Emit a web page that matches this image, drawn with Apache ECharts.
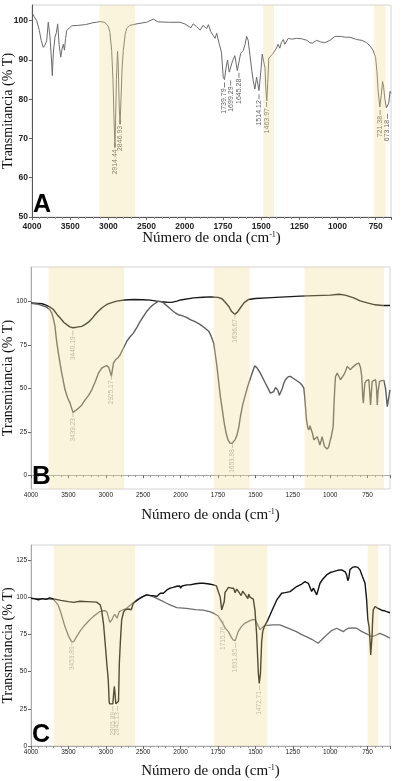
<!DOCTYPE html>
<html>
<head>
<meta charset="utf-8">
<script src="https://cdn.jsdelivr.net/npm/echarts@6/dist/echarts.min.js"></script>
<style>
  html, body { margin: 0; padding: 0; background: #fff; }
  #chart { width: 406px; height: 781px; }
</style>
</head>
<body>
<div id="chart"></div>
<script>
// ---- panel A ----
var waveA = [4000,3970,3939,3920,3904,3880,3852,3830,3808,3787,3765,3745,3734,3720,3699,3680,3664,3645,3624,3605,3590,3575,3560,3546,3510,3480,3400,3300,3200,3153,3110,3050,3001,2980,2957,2940,2925,2914,2905,2895,2880,2870,2858,2847,2835,2820,2805,2780,2761,2720,2674,2600,2500,2412,2350,2200,2063,2000,1987,1960,1945,1922,1900,1880,1857,1845,1830,1813,1802,1791,1774,1760,1748,1740,1730,1720,1709,1699,1687,1672,1656,1645,1634,1617,1605,1595,1585,1573,1560,1552,1541,1530,1514,1500,1493,1483,1475,1468,1463,1457,1450,1437,1425,1410,1400,1389,1378,1367,1355,1345,1323,1300,1268,1235,1200,1181,1165,1137,1110,1083,1050,1017,980,950,919,875,840,810,785,767,751,742,734,723,714,705,698,690,680,673,665,656,650];
var transA = [102.1,101,100,99.5,97.5,95,93.2,93.8,94.9,99.6,96,90,86,92,95.8,97,99.2,94,90.7,93,94,92.5,95.5,97.5,98.2,98.7,98.8,99,99.5,99.6,99.8,99.6,98.6,97,92.4,85,74,67.8,75,85,92.2,88,78,73.7,80,88,92.4,96.5,98,98.8,99,99.3,99.6,100.4,99.7,99.6,99.6,99.2,99,98.2,99.2,98.5,97.6,98.8,98,99,97.2,96.2,95.5,96.8,94,92,85.6,85,88,90,86.9,86.5,89.8,91.1,87.3,87,91.7,92.4,94,96,95,91.1,87,84.7,82.6,85.6,82.2,88,91.5,92,88,82,79.6,84,90.5,90,91.5,92.4,93,94,93,94.5,95.2,94,95.5,95.3,95.5,95.4,95,94.4,94.3,95,94.6,94.4,95,96,96,95.8,95.8,95.2,95,94.4,93.5,92.4,90.7,87,82,78,81,84.5,83,80,77.8,77.5,79,82,81.5];
var peaksA = [2914.44, 2846.93, 1739.79, 1699.29, 1645.28, 1514.12, 1463.97, 721.38, 673.18];
var peakLevelA = [67.5, 73.5, 83, 83.5, 85.5, 80, 78, 76, 75];
var bandsA = [[3120, 2650], [1487, 1415], [760, 686]];

// ---- panel B ----
var waveB1 = [4000,3900,3850,3800,3750,3701,3650,3612,3560,3522,3480,3440,3390,3321,3280,3232,3180,3121,3050,2987,2920,2853,2750,2629,2500,2406,2300,2183,2120,2049,2000,1913,1850,1801,1750,1723,1700,1679,1660,1638,1620,1600,1575,1545,1500,1422,1300,1199,1100,1000,940,900,842,800,752,700,650,600];
var transB1 = [99.3,99,98.8,98,97,95.5,92.5,90.7,88,86.8,85.5,85,85.3,85.8,86.8,88.2,90.5,93.6,96.5,98.4,99.5,100.3,101,101.3,101.1,100.9,100.2,99.7,99.6,100.3,101,102.2,102.6,102.8,102.5,101.7,99.5,97.4,94.5,92.7,94,96.5,99.5,101.3,101.8,102.2,102.8,103.2,103.5,103.8,104.3,103.8,102.2,100.5,99.3,98.2,97.8,97.8];
var waveB2 = [4000,3900,3800,3750,3723,3700,3679,3660,3634,3610,3589,3545,3510,3478,3439,3410,3366,3320,3277,3230,3187,3140,3098,3054,3020,2987,2960,2951,2935,2925,2915,2897,2870,2853,2830,2808,2790,2763,2719,2680,2629,2580,2540,2490,2451,2400,2362,2295,2260,2228,2180,2138,2100,2071,2030,1991,1960,1935,1900,1868,1840,1812,1795,1779,1770,1757,1745,1734,1720,1708,1695,1683,1670,1656,1645,1635,1623,1610,1600,1585,1567,1550,1533,1515,1505,1490,1467,1450,1433,1415,1400,1390,1377,1365,1359,1350,1340,1333,1320,1310,1299,1280,1266,1250,1232,1215,1199,1185,1176,1170,1163,1158,1150,1143,1135,1127,1118,1109,1098,1087,1078,1069,1060,1054,1045,1038,1031,1020,1009,1000,994,987,980,975,968,964,953,942,931,920,908,897,886,875,864,853,842,825,808,797,789,782,778,773,768,758,748,741,736,730,725,719,708,696,690,685,680,670,655,641,630,618,610,600];
var transB2 = [99,98.5,97,95.5,93.6,90,85.8,78,70.4,64,58.8,49.2,44.5,41.5,36.2,37,38.6,40.5,43.4,46,49.2,54,58.8,61.7,62.5,63.1,62,61.7,58.5,57,60,64.6,66.5,67.5,68,69.4,71,73.3,77.2,79.5,82,85.5,88.7,92,94.5,97,98.4,100.3,100,99.3,97.5,95.9,94.5,93.6,92.5,92,91,89.7,88.3,86.8,85,83,80,76.2,71,62.7,53.5,45.3,37,29.9,24,20.3,18.5,18.3,19,20.5,23.1,28,33.8,40.5,46.3,51.5,55.9,60.5,63,62,58.8,56,53,50,47.3,46.5,48.2,50.5,51.1,49,46,45.5,50,53,55,56.8,56.9,56,55,54,53,51.5,50.2,45,37,31.8,27.5,26,28.5,29,24,20.3,21,22.2,20,17.4,20,22.2,19,16.5,15.4,15,16.4,20,21.5,22.2,28,40,52,56.9,58.8,57,55,56,57.9,60,62.7,62,60.8,62,63.1,64,64.6,62,57,45,41.5,48,53,54.5,55,55,48,40.5,47,54,55,55,50,40.5,48,54,54.5,54.6,50,39.5,44,49.2];
var peaksB = [3440.19, 1636.67, 3439.23, 2925.17, 1653.88];
var peakLevelB = [80.5, 90.5, 33.5, 55, 15.5];
var bandsB = [[3768, 2754], [1779, 1538], [1172, 640]];

// ---- panel C ----
var waveC1 = [4000,3950,3900,3850,3800,3750,3700,3680,3600,3500,3430,3346,3252,3123,3074,3056,3029,3012,2985,2967,2955,2950,2930,2906,2895,2886,2876,2866,2841,2830,2819,2805,2788,2762,2743,2700,2677,2660,2632,2606,2543,2500,2455,2400,2362,2319,2272,2230,2183,2140,2100,2050,2010,2000,1990,1958,1937,1900,1870,1849,1820,1800,1781,1760,1748,1735,1725,1716,1708,1703,1691,1680,1660,1646,1635,1625,1615,1603,1595,1585,1570,1559,1550,1545,1536,1525,1514,1503,1492,1480,1474,1466,1458,1451,1440,1420,1402,1380,1357,1324,1300,1268,1224,1190,1168,1146,1124,1112,1090,1068,1050,1024,1000,979,950,923,900,890,882,879,875,868,850,834,815,801,785,767,756,748,740,733,729,724,720,716,712,700,690,680,668,650,636,622,610,600];
var transC1 = [99.2,98.8,98.2,99,98.5,99.5,98.8,98.1,97.8,97,96.5,97.2,97,96.6,94.8,91.4,81.3,71.2,54.4,44.4,30,28.4,28.3,28.3,35,40,35,28.4,28.4,30,55.6,70,84.7,90,91.4,92,92.5,91.5,95.9,97,99.2,100.5,101.5,101,101,100.4,102.6,102.6,104.8,106,106.5,107.3,107.5,106,107.5,108.2,108.2,109,109.3,109.3,109,108.6,108.2,107.5,103.8,100,91.4,90.2,97,103.2,104.8,106.5,106,106,103,105.4,104,104,101,104,102,101.5,99,102,100,101,98.6,91.4,75.7,48.8,42.1,48.8,70,76.8,80.2,84,88,93,98.1,102.6,103,103.7,107.1,108.8,110.4,109.3,103.8,106,101.5,109.3,112,114.9,116.5,117.1,118,118.3,117,114.9,111,110.4,113,118.3,120,120.5,120,118.3,114,109.3,98.1,85,80.2,70,61.2,62,73.5,85,91.4,93.6,93.6,92.5,91.4,91,90.8,90.3,89,89.5];
var waveC2 = [4000,3800,3700,3680,3640,3613,3580,3546,3500,3457,3430,3390,3340,3279,3220,3168,3120,3079,3012,2985,2967,2945,2932,2915,2900,2880,2864,2850,2835,2820,2770,2721,2650,2588,2520,2455,2400,2319,2250,2200,2142,2050,1963,1900,1850,1805,1781,1750,1725,1700,1681,1660,1649,1635,1615,1595,1571,1540,1514,1500,1492,1480,1470,1455,1440,1427,1380,1337,1290,1226,1190,1160,1120,1081,1060,1024,990,957,935,912,895,879,850,823,790,756,723,700,668,640,620,600];
var transC2 = [99.2,98.8,98.5,97.5,95,91.4,86,80.2,74,70.1,70,73.5,77.5,81.3,84.5,86.9,88.8,90.3,91,90,86.9,83,82.4,85,86.9,88.5,89.2,85.8,88,90.3,91.5,92.5,95.5,98.1,100,101.5,101,99.2,97.5,96.2,94.8,93,92.5,91.6,91.2,90.3,89.2,87.5,83.5,79,76.8,73,71.2,70.8,76.8,80,82.4,84,85.1,84.5,83.5,80.5,78,79.5,80.8,81.3,81.3,81.3,79.5,76.8,74.8,73.5,71.5,69,71,74.6,77.5,79.1,78,76.8,78.2,79.1,79.3,79.1,77,75.3,73.5,74.2,75.7,74.5,73.5,72.4];
var peaksC = [3453.89, 2905.89, 2845.13, 1715.76, 1631.85, 1472.71];
var peakLevelC = [67.5, 23.5, 23.5, 81, 66, 37.5];
var bandsC = [[3697, 2606], [1776, 1420], [750, 678]];

var yTicksA = [50, 60, 70, 80, 90, 100];
var yTicksB = [0, 25, 50, 75, 100];
var yTicksC = [0, 25, 50, 75, 100, 125];

// the x axis is stretched twice below 2000 cm-1
function toT(w) { return w >= 2000 ? 4000 - w : 2000 + 2 * (2000 - w); }
function fromT(t) { return t <= 2000 ? 4000 - t : 2000 - (t - 2000) / 2; }
function pts(w, v) { return w.map(function (x, i) { return [toT(x), v[i]]; }); }

var serif = 'Liberation Serif';
var sans = 'Liberation Sans';
var bandColor = 'rgba(242,220,140,0.3)';

function xAxisOf(i, maxW, bold, labelSize, gap) {
  return {
    type: 'value', gridIndex: i, min: 0, max: toT(maxW), interval: 500,
    name: 'Número de onda (cm{sup|-1})', nameLocation: 'middle', nameGap: gap,
    nameMoveOverlap: false,
    nameTextStyle: {
      fontFamily: serif, fontSize: 15, color: '#111',
      rich: { sup: { fontFamily: serif, fontSize: 8, verticalAlign: 'top', color: '#111' } }
    },
    axisLine: { lineStyle: { color: i === 0 ? '#555' : '#aaa', width: 1 } },
    axisTick: { length: 3, lineStyle: { color: '#666' } },
    minorTick: { show: true, splitNumber: 5, length: 2, lineStyle: { color: '#999' } },
    splitLine: { show: false },
    axisLabel: {
      showMaxLabel: false, fontFamily: sans, fontSize: labelSize,
      fontWeight: bold ? 'bold' : 'normal', color: '#222', margin: bold ? 5 : 3,
      formatter: function (t) { return String(Math.round(fromT(t))); }
    }
  };
}
function yAxisOf(i, min, max, ticks, bold, labelSize, gap) {
  return {
    type: 'value', gridIndex: i, min: min, max: max,
    name: 'Transmitancia (% T)', nameLocation: 'middle', nameGap: gap,
    nameMoveOverlap: false,
    nameTextStyle: { fontFamily: serif, fontSize: 14, color: '#111' },
    axisLine: { show: true, lineStyle: { color: i === 0 ? '#555' : '#aaa' } },
    axisTick: { show: true, length: 3, customValues: ticks, lineStyle: { color: '#666' } },
    splitLine: { show: false },
    axisLabel: {
      customValues: ticks, fontFamily: sans, fontSize: labelSize,
      fontWeight: bold ? 'bold' : 'normal', color: '#222', margin: 4
    }
  };
}
function lineOf(i, w, v, color, width) {
  return {
    type: 'line', xAxisIndex: i, yAxisIndex: i, data: pts(w, v), showSymbol: false,
    lineStyle: { color: color, width: width }, itemStyle: { color: color }, z: 2, silent: true
  };
}
function bandOf(i, bands, yMin) {
  return {
    type: 'line', xAxisIndex: i, yAxisIndex: i, data: [[0, yMin]], showSymbol: false,
    lineStyle: { opacity: 0 }, silent: true,
    markArea: {
      z: 10, silent: true, itemStyle: { color: bandColor },
      data: bands.map(function (b) { return [{ xAxis: toT(b[0]) }, { xAxis: toT(b[1]) }]; })
    }
  };
}
function peaksOf(i, peaks, levels, color, size) {
  return {
    type: 'scatter', xAxisIndex: i, yAxisIndex: i, z: 3, silent: true,
    symbol: 'rect', symbolSize: [0.8, 5], symbolOffset: [0, -2.5],
    itemStyle: { color: color },
    data: peaks.map(function (p, k) { return { value: [toT(p), levels[k]], name: p.toFixed(2) }; }),
    label: {
      show: true, position: 'bottom', distance: 1, rotate: 90, align: 'right', verticalAlign: 'middle',
      fontFamily: sans, fontSize: size, color: color,
      formatter: function (d) { return d.name; }
    }
  };
}

var chart = echarts.init(document.getElementById('chart'));
chart.setOption({
  animation: false,
  backgroundColor: '#fff',
  grid: [
    { left: 32, top: 5, width: 359, height: 212, outerBoundsMode: 'none', show: true, borderColor: '#d4d4d4', borderWidth: 1 },
    { left: 31, top: 267, width: 359, height: 222, outerBoundsMode: 'none', show: true, borderColor: '#d4d4d4', borderWidth: 1 },
    { left: 31, top: 545, width: 359, height: 201, outerBoundsMode: 'none', show: true, borderColor: '#d4d4d4', borderWidth: 1 }
  ],
  xAxis: [
    xAxisOf(0, 650, true, 8.5, 14),
    xAxisOf(1, 600, false, 6.5, 19),
    xAxisOf(2, 600, false, 6.5, 18)
  ],
  yAxis: [
    yAxisOf(0, 50, 104, yTicksA, true, 8.5, 17),
    yAxisOf(1, -8, 120, yTicksB, false, 6.5, 16),
    yAxisOf(2, 0, 135, yTicksC, false, 6.5, 16)
  ],
  series: [
    lineOf(0, waveA, transA, '#6a6a6a', 1),
    peaksOf(0, peaksA, peakLevelA, '#333', 7),
    bandOf(0, bandsA, 50),
    lineOf(1, waveB1, transB1, '#1a1a1a', 1.4),
    lineOf(1, waveB2, transB2, '#5e5e5e', 1.4),
    peaksOf(1, peaksB, peakLevelB, '#999', 6.5),
    bandOf(1, bandsB, -8),
    lineOf(2, waveC2, transC2, '#6e6e6e', 1.3),
    lineOf(2, waveC1, transC1, '#111', 1.4),
    peaksOf(2, peaksC, peakLevelC, '#a0a0a0', 6.5),
    bandOf(2, bandsC, 0)
  ],
  graphic: [
    { type: 'text', left: 33, top: 193, z: 20, style: { text: 'A', font: 'bold 25px "Liberation Sans"', fill: '#000' } },
    { type: 'text', left: 32, top: 464, z: 20, style: { text: 'B', font: 'bold 26px "Liberation Sans"', fill: '#000' } },
    { type: 'text', left: 32, top: 723, z: 20, style: { text: 'C', font: 'bold 25px "Liberation Sans"', fill: '#000' } }
  ]
});
</script>
</body>
</html>
